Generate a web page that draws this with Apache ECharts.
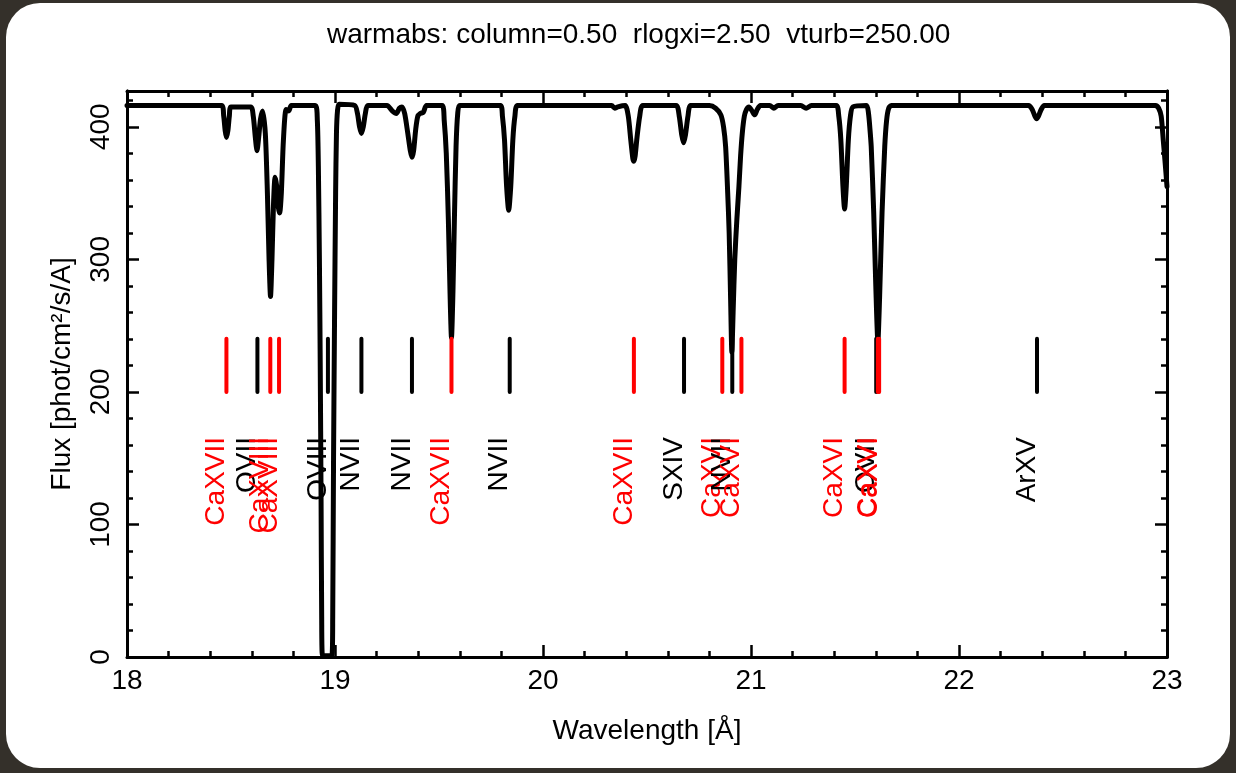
<!DOCTYPE html>
<html>
<head>
<meta charset="utf-8">
<title>warmabs</title>
<script src="https://cdn.jsdelivr.net/npm/echarts@6/dist/echarts.min.js"></script>
<style>
  html, body { margin: 0; padding: 0; width: 1236px; height: 773px; background: #34302a; overflow: hidden; }
  #panel { position: absolute; left: 6px; top: 3px; width: 1224px; height: 765px; background: #fff; border-radius: 34px; }
  #chart { position: absolute; left: 0; top: 0; width: 1236px; height: 773px; }
</style>
</head>
<body>
<div id="panel"></div>
<div id="chart"></div>
<script>
// Model spectrum: wavelength [Å] and flux [phot/cm²/s/A]
const specWave = [
  18.000, 18.455, 18.465, 18.472, 18.478, 18.485, 18.492, 18.500,
  18.595, 18.607, 18.617, 18.625, 18.633, 18.642, 18.652,
  18.665, 18.675, 18.683, 18.690, 18.697, 18.704, 18.712,
  18.720, 18.728, 18.734, 18.742, 18.752, 18.765, 18.778, 18.790,
  18.905, 18.915, 18.920, 18.925, 18.929, 18.933, 18.936, 18.940,
  18.985, 18.989, 18.993, 18.998, 19.003, 19.007, 19.012, 19.020,
  19.095, 19.108, 19.118, 19.127, 19.136, 19.146, 19.158,
  19.250, 19.275, 19.295, 19.310, 19.322, 19.335, 19.350, 19.362, 19.370, 19.378, 19.388, 19.398, 19.410, 19.425, 19.440,
  19.515, 19.525, 19.535, 19.545, 19.553, 19.560, 19.567, 19.574, 19.582, 19.590, 19.600,
  19.795, 19.805, 19.815, 19.825, 19.835, 19.845, 19.855, 19.865, 19.878,
  20.330, 20.345, 20.360, 20.395, 20.410, 20.422, 20.432, 20.437, 20.443, 20.452, 20.465, 20.480,
  20.640, 20.655, 20.667, 20.676, 20.685, 20.697, 20.710,
  20.800, 20.830, 20.855, 20.868, 20.878, 20.888, 20.895, 20.902, 20.908, 20.914, 20.922, 20.932, 20.942, 20.950, 20.958, 20.968, 20.978,
  20.990, 21.005, 21.018, 21.030, 21.045, 21.090, 21.110, 21.130, 21.240, 21.265, 21.290,
  21.410, 21.422, 21.432, 21.442, 21.450, 21.458, 21.468, 21.478, 21.490,
  21.555, 21.565, 21.572, 21.578, 21.590, 21.600, 21.610, 21.618, 21.630, 21.643, 21.652, 21.662, 21.675,
  22.335, 22.352, 22.365, 22.373, 22.382, 22.395, 22.410,
  22.945, 22.960, 22.972, 22.982, 22.990, 23.000
];
const specFlux = [
  416, 416, 408, 397, 392, 397, 408, 415,
  415, 408, 392, 382, 392, 406, 412,
  395, 350, 300, 272, 300, 340, 362,
  355, 339, 335, 350, 390, 413, 412, 416,
  416, 405, 370, 300, 220, 120, 30, 1,
  1, 30, 150, 260, 350, 395, 412, 417,
  416, 410, 400, 395, 400, 410, 416,
  416, 412, 410, 414, 415, 410, 395, 382, 377, 382, 398, 408, 410, 411, 416,
  416, 405, 380, 330, 275, 241, 275, 330, 385, 410, 416,
  416, 408, 390, 355, 337, 355, 390, 408, 416,
  416, 414, 415, 416, 408, 390, 376, 374, 378, 392, 408, 416,
  416, 408, 394, 388, 394, 408, 416,
  416, 414, 409, 400, 385, 350, 320, 270, 230, 260, 300, 330, 355, 378, 395, 408, 413,
  415, 412, 409, 413, 416, 416, 414, 416, 416, 414, 416,
  416, 408, 390, 355, 338, 355, 390, 408, 415,
  416, 410, 398, 385, 335, 280, 238, 270, 335, 385, 405, 414, 416,
  416, 413, 408, 406, 408, 413, 416,
  416, 414, 408, 390, 375, 355
];

// Identified absorption lines: rest wavelength [Å] and ion
const lineWave = [18.478, 18.627, 18.689, 18.731, 18.966, 19.127, 19.370, 19.560, 19.840,
                  20.437, 20.678, 20.862, 20.910, 20.954, 21.450, 21.602, 21.610, 21.616, 22.375];
const lineIon  = ['CaXVII', 'OVII', 'CaXVIII', 'CaXVIII', 'OVIII', 'NVII', 'NVII', 'CaXVII', 'NVII',
                  'CaXVII', 'SXIV', 'CaXVI', 'NVII', 'CaXVI', 'CaXVI', 'OVII', 'CaXVI', 'CaXVI', 'ArXV'];

const xTicks = [18, 19, 20, 21, 22, 23];
const yTicks = [0, 100, 200, 300, 400];

const FONT = '"Liberation Sans", Arial, Helvetica, sans-serif';
const FS = 28;
const X_MIN = 18, X_MAX = 23, Y_MIN = 0, Y_MAX = 427;

const spectrum = specWave.map((w, i) => [w, specFlux[i]]);
const lines = lineWave.map((w, i) => [w, lineIon[i]]);

const chart = echarts.init(document.getElementById('chart'), null, { renderer: 'canvas' });

function xAx(pos, major) {
  return {
    type: 'value', position: pos, min: X_MIN, max: X_MAX, interval: 1,
    axisLine: { show: true, onZero: false, lineStyle: { color: '#000', width: 3 } },
    axisTick: { show: true, inside: true, length: 12, lineStyle: { color: '#000', width: 2.5 } },
    minorTick: { show: true, splitNumber: 5, length: 6, lineStyle: { color: '#000', width: 2.5 } },
    axisLabel: {
      show: major, margin: 10, color: '#000', fontSize: FS, fontFamily: FONT,
      formatter: v => (xTicks.indexOf(v) >= 0 ? String(v) : '')
    },
    splitLine: { show: false },
    name: major ? 'Wavelength [Å]' : '', nameLocation: 'middle', nameGap: 60,
    nameTextStyle: { color: '#000', fontSize: FS, fontFamily: FONT }
  };
}

function yAx(pos, interval, len, labels) {
  return {
    type: 'value', position: pos, min: Y_MIN, max: Y_MAX, interval: interval,
    axisLine: { show: true, onZero: false, lineStyle: { color: '#000', width: 3 } },
    axisTick: { show: true, inside: true, length: len, lineStyle: { color: '#000', width: 2.5 } },
    axisLabel: {
      show: labels, rotate: 90, margin: 12, color: '#000', fontSize: FS, fontFamily: FONT,
      showMaxLabel: false,
      formatter: v => (yTicks.indexOf(v) >= 0 ? String(v) : '')
    },
    splitLine: { show: false },
    name: labels ? 'Flux [phot/cm²/s/A]' : '', nameLocation: 'middle', nameGap: 51, nameRotate: 90,
    nameTextStyle: { color: '#000', fontSize: FS, fontFamily: FONT }
  };
}

chart.setOption({
  backgroundColor: 'transparent',
  animation: false,
  title: {
    text: 'warmabs: column=0.50  rlogxi=2.50  vturb=250.00',
    left: 322, top: 16,
    textStyle: { color: '#000', fontSize: FS, fontWeight: 'normal', fontFamily: FONT }
  },
  grid: { left: 127, top: 91, width: 1040, height: 566, containLabel: false },
  xAxis: [xAx('bottom', true), xAx('top', false)],
  yAxis: [
    yAx('left', 100, 12, true), yAx('left', 20, 6, false),
    yAx('right', 100, 12, false), yAx('right', 20, 6, false)
  ],
  series: [
    {
      type: 'line', data: spectrum, xAxisIndex: 0, yAxisIndex: 0,
      showSymbol: false, smooth: 0.25, clip: true,
      lineStyle: { color: '#000', width: 5, join: 'round', cap: 'round' },
      z: 2
    },
    {
      type: 'custom', data: lines, xAxisIndex: 0, yAxisIndex: 0, z: 3,
      renderItem: function (params, api) {
        const w = api.value(0);
        const ion = lines[params.dataIndex][1];
        const col = ion.indexOf('Ca') === 0 ? '#ff0000' : '#000000';
        const top = api.coord([w, 240]);
        const bot = api.coord([w, 200]);
        const lab = api.coord([w, 166]);
        return {
          type: 'group',
          children: [
            {
              type: 'line',
              shape: { x1: top[0], y1: top[1], x2: bot[0], y2: bot[1] },
              style: { stroke: col, lineWidth: 4, lineCap: 'round' }
            },
            {
              type: 'text',
              x: lab[0] - 10, y: lab[1], rotation: Math.PI / 2,
              style: { text: ion, fill: col, fontSize: FS, fontFamily: FONT, align: 'right', verticalAlign: 'middle' }
            }
          ]
        };
      }
    }
  ]
});
</script>
</body>
</html>
